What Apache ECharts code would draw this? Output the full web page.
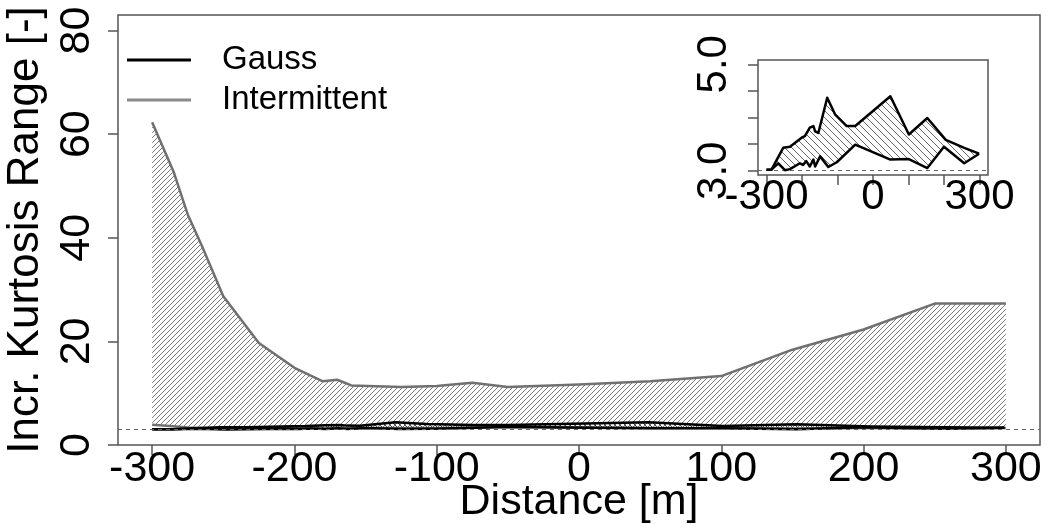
<!DOCTYPE html>
<html>
<head>
<meta charset="utf-8">
<script src="https://cdn.jsdelivr.net/npm/echarts@6/dist/echarts.min.js"></script>
<style>
  html, body { margin: 0; padding: 0; background: #ffffff; }
  #chart { width: 1046px; height: 524px; }
</style>
</head>
<body>
<div id="chart"></div>
<script>
// Intermittent kurtosis range: upper and lower envelope along the transect
const intDistance = [-300, -285, -275, -265, -250, -225, -200, -180, -170, -160, -125, -100, -75, -50, 0, 50, 100, 150, 200, 250, 300];
const intUpper    = [62.3, 52.8, 44.5, 38.4, 28.7, 19.7, 14.9, 12.3, 12.6, 11.5, 11.2, 11.4, 12.0, 11.2, 11.7, 12.3, 13.3, 18.4, 22.3, 27.3, 27.3];
const intLower    = [3.9, 3.6, 3.4, 3.3, 3.2, 3.3, 3.3, 3.2, 3.3, 3.3, 3.3, 3.3, 3.4, 3.5, 3.4, 3.3, 3.3, 3.2, 3.3, 3.2, 3.3];

// Gauss kurtosis range: upper envelope
const gaussUpperDistance = [-300, -286, -253, -234, -201, -192, -178, -168, -163, -154, -129, -107, -74, -50, 49, 101, 153, 205, 257, 299];
const gaussUpper         = [3.02, 3.02, 3.43, 3.45, 3.62, 3.65, 3.81, 3.84, 3.74, 3.71, 4.37, 4.06, 3.84, 3.84, 4.40, 3.68, 3.99, 3.58, 3.43, 3.32];
// Gauss kurtosis range: lower envelope
const gaussLowerDistance = [-300, -286, -267, -248, -234, -206, -197, -188, -178, -168, -163, -149, -126, -102, -50, 49, 101, 153, 200, 257, 299];
const gaussLower         = [3.02, 3.02, 3.14, 3.01, 3.03, 3.14, 3.11, 3.18, 3.08, 3.21, 3.08, 3.27, 3.07, 3.16, 3.49, 3.21, 3.22, 3.05, 3.45, 3.14, 3.32];

// Axis ticks and labels
const xTicks = [-300, -200, -100, 0, 100, 200, 300];
const yTicks = [0, 20, 40, 60, 80];
const insetXLabels = [-300, 0, 300];
const insetYTicks = [3.0, 3.5, 4.0, 4.5, 5.0];
const insetYLabels = [3.0, 5.0];
const referenceLevel = 3;

const FONT = 'Liberation Sans';
const BOX = '#555555';
const INT_COLOR = '#707070';
const GAUSS_COLOR = '#000000';

// Diagonal shading as a repeating canvas pattern ('/' when dir > 0, '\' otherwise)
function hatch(step, dir, color) {
  const T = step * 4;
  const c = document.createElement('canvas');
  c.width = T; c.height = T;
  const ctx = c.getContext('2d');
  ctx.strokeStyle = color;
  ctx.lineWidth = 1;
  for (let k = -T; k <= 2 * T; k += step) {
    ctx.beginPath();
    if (dir > 0) { ctx.moveTo(k + T, -T); ctx.lineTo(k - 2 * T, 2 * T); }
    else { ctx.moveTo(k - T, -T); ctx.lineTo(k + 2 * T, 2 * T); }
    ctx.stroke();
  }
  return { image: c, repeat: 'repeat' };
}

// A shaded band between two envelopes, with both envelopes stroked
function band(name, axis, upX, up, loX, lo, color, width, pattern, z) {
  return {
    type: 'custom',
    name: name,
    coordinateSystem: 'cartesian2d',
    xAxisIndex: axis,
    yAxisIndex: axis,
    data: [[upX[0], up[0]]],
    silent: true,
    clip: true,
    z: z,
    itemStyle: { color: color },
    renderItem: function (params, api) {
      const u = upX.map((x, i) => api.coord([x, up[i]]));
      const l = loX.map((x, i) => api.coord([x, lo[i]]));
      const poly = u.concat(l.slice().reverse());
      return {
        type: 'group',
        children: [
          { type: 'polygon', shape: { points: poly }, style: { fill: pattern, stroke: null } },
          { type: 'polyline', shape: { points: u }, style: { fill: null, stroke: color, lineWidth: width, lineJoin: 'round' } },
          { type: 'polyline', shape: { points: l }, style: { fill: null, stroke: color, lineWidth: width, lineJoin: 'round' } }
        ]
      };
    }
  };
}

function refLine(axis) {
  return {
    type: 'line',
    xAxisIndex: axis,
    yAxisIndex: axis,
    data: [],
    silent: true,
    z: 1,
    markLine: {
      silent: true,
      symbol: ['none', 'none'],
      label: { show: false },
      lineStyle: { color: '#666666', width: 1, type: [4, 4] },
      data: [{ yAxis: referenceLevel }]
    }
  };
}

const tickLabel = { color: '#000', fontFamily: FONT, fontSize: 43 };
const insetLabel = { color: '#000', fontFamily: FONT, fontSize: 42 };
const hiddenLine = { show: false, onZero: false };

const chart = echarts.init(document.getElementById('chart'), null, { renderer: 'canvas' });
chart.setOption({
  animation: false,
  backgroundColor: '#ffffff',
  grid: [
    { left: 118, top: 15, width: 922, height: 430, outerBoundsMode: 'none', containLabel: false,
      show: true, borderColor: BOX, borderWidth: 1.5, backgroundColor: 'transparent' },
    { left: 758, top: 60, width: 230, height: 115, outerBoundsMode: 'none', containLabel: false,
      show: true, borderColor: BOX, borderWidth: 1.5, backgroundColor: '#ffffff', z: 5 }
  ],
  legend: {
    orient: 'vertical',
    left: 127,
    top: 43,
    padding: 0,
    itemGap: 6,
    itemWidth: 64,
    itemHeight: 3,
    selectedMode: false,
    textStyle: { color: '#000', fontFamily: FONT, fontSize: 33, lineHeight: 34, padding: [0, 0, 0, 26] },
    data: [
      { name: 'Gauss', icon: 'rect', itemStyle: { color: GAUSS_COLOR } },
      { name: 'Intermittent', icon: 'rect', itemStyle: { color: '#8a8a8a' } }
    ]
  },
  xAxis: [
    {
      type: 'value', gridIndex: 0, min: -324, max: 324,
      name: 'Distance [m]', nameLocation: 'middle', nameGap: 36, nameMoveOverlap: false,
      nameTextStyle: { color: '#000', fontFamily: FONT, fontSize: 43 },
      axisLine: hiddenLine,
      splitLine: { show: false },
      axisTick: { show: true, inside: false, length: 10, customValues: xTicks, lineStyle: { color: BOX, width: 1.5 } },
      axisLabel: Object.assign({ margin: 3, customValues: xTicks }, tickLabel)
    },
    {
      type: 'value', gridIndex: 1, min: -324, max: 324,
      axisLine: hiddenLine,
      splitLine: { show: false },
      axisTick: { show: true, length: 10, customValues: xTicks, lineStyle: { color: BOX, width: 1.5 } },
      axisLabel: Object.assign({ margin: 1, customValues: insetXLabels }, insetLabel)
    }
  ],
  yAxis: [
    {
      type: 'value', gridIndex: 0, min: 0, max: 83,
      name: 'Incr. Kurtosis Range [-]', nameLocation: 'middle', nameGap: 70, nameRotate: 90, nameMoveOverlap: false,
      nameTextStyle: { color: '#000', fontFamily: FONT, fontSize: 44 },
      axisLine: hiddenLine,
      splitLine: { show: false },
      axisTick: { show: true, length: 10, customValues: yTicks, lineStyle: { color: BOX, width: 1.5 } },
      axisLabel: Object.assign({ margin: 19, rotate: 90, customValues: yTicks }, tickLabel)
    },
    {
      type: 'value', gridIndex: 1, min: 2.92, max: 5.08,
      axisLine: hiddenLine,
      splitLine: { show: false },
      axisTick: { show: true, length: 10, customValues: insetYTicks, lineStyle: { color: BOX, width: 1.5 } },
      axisLabel: Object.assign({ margin: 23, rotate: 90, customValues: insetYLabels, formatter: v => v.toFixed(1) }, insetLabel)
    }
  ],
  series: [
    refLine(0),
    band('Intermittent', 0, intDistance, intUpper, intDistance, intLower, INT_COLOR, 2.5, hatch(5, 1, '#7a7a7a'), 2),
    band('Gauss', 0, gaussUpperDistance, gaussUpper, gaussLowerDistance, gaussLower, GAUSS_COLOR, 2.5, hatch(5, -1, '#444444'), 3),
    refLine(1),
    band('Gauss', 1, gaussUpperDistance, gaussUpper, gaussLowerDistance, gaussLower, GAUSS_COLOR, 2.5, hatch(7, -1, '#666666'), 6)
  ]
});
</script>
</body>
</html>
